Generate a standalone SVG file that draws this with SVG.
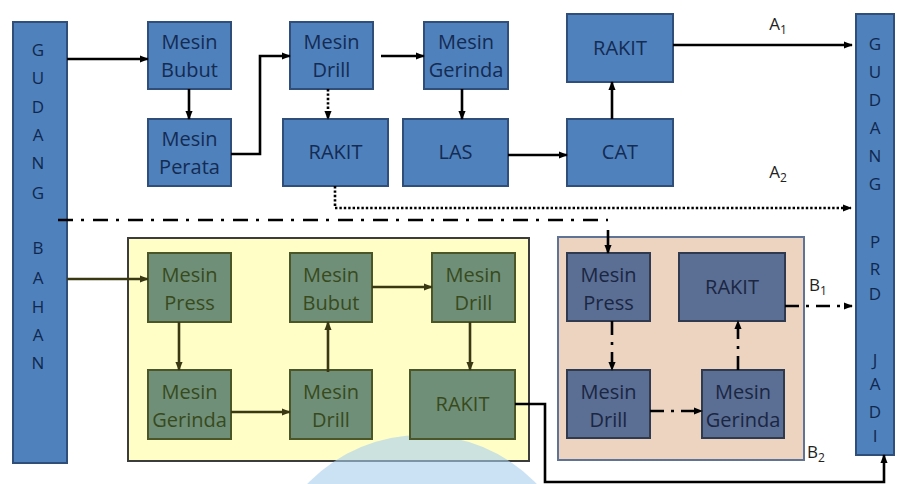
<svg xmlns="http://www.w3.org/2000/svg" width="899" height="484" viewBox="0 0 899 484">
<defs>
<style>
.blue rect{fill:#4f81bd;stroke:#2f4f7a;stroke-width:2}
.blue text{fill:#142b52}
.green rect{fill:#6f8f79;stroke:#4b5628;stroke-width:2}
.green text{fill:#384a1c}
.gray rect{fill:#5b6e94;stroke:#2f3a4f;stroke-width:2}
.gray text{fill:#1a2642}
text{font-family:"Open Sans","Liberation Sans",sans-serif;font-size:20px;text-anchor:middle}
.bar text{font-size:17px;fill:#10284d}
.lbl{fill:#222;font-size:17px}
.sub{font-size:12px}
.c{fill:none;stroke:#000;stroke-width:2.6}
.ol{fill:none;stroke:#3a3812;stroke-width:2.6}
.dot{stroke-dasharray:2.4 2}
.dd{stroke-dasharray:14 7 3 7}
.ldd{stroke-dasharray:15 8 3 9}
</style>
<marker id="ah" viewBox="0 0 10 10" refX="9" refY="5" markerWidth="9" markerHeight="9" markerUnits="userSpaceOnUse" orient="auto"><path d="M0,1 L10,5 L0,9 z" fill="#000"/></marker>
<marker id="aho" viewBox="0 0 10 10" refX="9" refY="5" markerWidth="9" markerHeight="9" markerUnits="userSpaceOnUse" orient="auto"><path d="M0,1 L10,5 L0,9 z" fill="#3a3812"/></marker>
</defs>
<rect width="899" height="484" fill="#ffffff"/>

<g id="area-yellow"><rect x="128" y="238" width="401" height="223" fill="#fefec6" stroke="#3c3c3c" stroke-width="2"/></g>
<g id="area-pink"><rect x="558" y="237" width="246" height="223" fill="#ecd4c1" stroke="#5f7396" stroke-width="2"/></g>

<circle id="watermark" cx="422" cy="594" r="159" fill="#a8cfee" opacity="0.6"/>

<g id="gudang-bahan" class="blue bar">
<rect x="13" y="22" width="54" height="441"/>
<text x="38" y="56">G</text><text x="38" y="84">U</text><text x="38" y="113">D</text><text x="38" y="141">A</text><text x="38" y="169">N</text><text x="38" y="199">G</text>
<text x="38" y="254">B</text><text x="38" y="284">A</text><text x="38" y="313">H</text><text x="38" y="341">A</text><text x="38" y="369">N</text>
</g>
<g id="gudang-prd" class="blue bar">
<rect x="856" y="14" width="38" height="441"/>
<text x="875" y="50">G</text><text x="875" y="78">U</text><text x="875" y="106">D</text><text x="875" y="134">A</text><text x="875" y="162">N</text><text x="875" y="190">G</text>
<text x="875" y="248">P</text><text x="875" y="275">R</text><text x="875" y="300">D</text>
<text x="875" y="366">J</text><text x="875" y="390">A</text><text x="875" y="418">D</text><text x="875" y="442">I</text>
</g>

<g id="a-bubut" class="blue"><rect x="148" y="22" width="83" height="67"/><text x="189.5" y="49">Mesin</text><text x="189.5" y="77">Bubut</text></g>
<g id="a-perata" class="blue"><rect x="148" y="119" width="83" height="67"/><text x="189.5" y="146">Mesin</text><text x="189.5" y="174">Perata</text></g>
<g id="a-drill" class="blue"><rect x="290" y="22" width="83" height="67"/><text x="331.5" y="49">Mesin</text><text x="331.5" y="77">Drill</text></g>
<g id="a-rakit1" class="blue"><rect x="283" y="119" width="105" height="67"/><text x="335.5" y="159">RAKIT</text></g>
<g id="a-gerinda" class="blue"><rect x="424" y="22" width="84" height="67"/><text x="466" y="49">Mesin</text><text x="466" y="77">Gerinda</text></g>
<g id="a-las" class="blue"><rect x="403" y="119" width="105" height="67"/><text x="455.5" y="159">LAS</text></g>
<g id="a-rakit2" class="blue"><rect x="567" y="14" width="106" height="68"/><text x="620" y="55">RAKIT</text></g>
<g id="a-cat" class="blue"><rect x="567" y="119" width="106" height="67"/><text x="620" y="159">CAT</text></g>

<g id="b-press" class="green"><rect x="148" y="253" width="83" height="69"/><text x="189.5" y="282">Mesin</text><text x="189.5" y="310">Press</text></g>
<g id="b-gerinda" class="green"><rect x="148" y="370" width="83" height="69"/><text x="189.5" y="399">Mesin</text><text x="189.5" y="427">Gerinda</text></g>
<g id="b-bubut" class="green"><rect x="290" y="253" width="82" height="69"/><text x="331" y="282">Mesin</text><text x="331" y="310">Bubut</text></g>
<g id="b-drill1" class="green"><rect x="290" y="370" width="82" height="69"/><text x="331" y="399">Mesin</text><text x="331" y="427">Drill</text></g>
<g id="b-drill2" class="green"><rect x="432" y="253" width="83" height="69"/><text x="473.5" y="282">Mesin</text><text x="473.5" y="310">Drill</text></g>
<g id="b-rakit" class="green"><rect x="410" y="370" width="105" height="69"/><text x="462.5" y="411">RAKIT</text></g>

<g id="c-press" class="gray"><rect x="567" y="253" width="83" height="68"/><text x="608.5" y="282">Mesin</text><text x="608.5" y="310">Press</text></g>
<g id="c-rakit" class="gray"><rect x="679" y="253" width="106" height="68"/><text x="732" y="294">RAKIT</text></g>
<g id="c-drill" class="gray"><rect x="567" y="370" width="83" height="68"/><text x="608.5" y="399">Mesin</text><text x="608.5" y="427">Drill</text></g>
<g id="c-gerinda" class="gray"><rect x="702" y="370" width="82" height="68"/><text x="743" y="399">Mesin</text><text x="743" y="427">Gerinda</text></g>

<g id="labels">
<text class="lbl" x="778" y="30">A<tspan class="sub" dy="4">1</tspan></text>
<text class="lbl" x="778" y="178">A<tspan class="sub" dy="4">2</tspan></text>
<text class="lbl" x="818" y="291">B<tspan class="sub" dy="4">1</tspan></text>
<text class="lbl" x="816" y="458">B<tspan class="sub" dy="4">2</tspan></text>
</g>

<g id="connectors">
<path class="c" d="M67,59 H148" marker-end="url(#ah)"/>
<path class="c" d="M189,89 V119" marker-end="url(#ah)"/>
<path class="c" d="M231,154 H260 V56 H290" marker-end="url(#ah)"/>
<path class="c" d="M381,56 H424" marker-end="url(#ah)"/>
<path class="c dot" d="M328,89 V119" marker-end="url(#ah)"/>
<path class="c dot" d="M335,186 V208 H851" marker-end="url(#ah)"/>
<path class="c ldd" d="M58,220 H608"/>
<path class="c" d="M608,230 V253" marker-end="url(#ah)"/>
<path class="c" d="M462,89 V119" marker-end="url(#ah)"/>
<path class="c" d="M508,155 H567" marker-end="url(#ah)"/>
<path class="c" d="M612,119 V82" marker-end="url(#ah)"/>
<path class="c" d="M673,45 H852" marker-end="url(#ah)"/>
<path class="ol" d="M67,279 H148" marker-end="url(#aho)"/>
<path class="ol" d="M179,322 V370" marker-end="url(#aho)"/>
<path class="ol" d="M231,412 H290" marker-end="url(#aho)"/>
<path class="ol" d="M328,372 V322" marker-end="url(#aho)"/>
<path class="ol" d="M372,287 H432" marker-end="url(#aho)"/>
<path class="ol" d="M470,322 V370" marker-end="url(#aho)"/>
<path class="c dd" d="M612,321 V370" marker-end="url(#ah)"/>
<path class="c dd" d="M650,411 H702" marker-end="url(#ah)"/>
<path class="c dd" d="M738,370 V321" marker-end="url(#ah)"/>
<path class="c dd" d="M785,306 H852" marker-end="url(#ah)"/>
<path class="c" d="M515,404 H545 V482 H884 V455" marker-end="url(#ah)"/>
</g>
</svg>
